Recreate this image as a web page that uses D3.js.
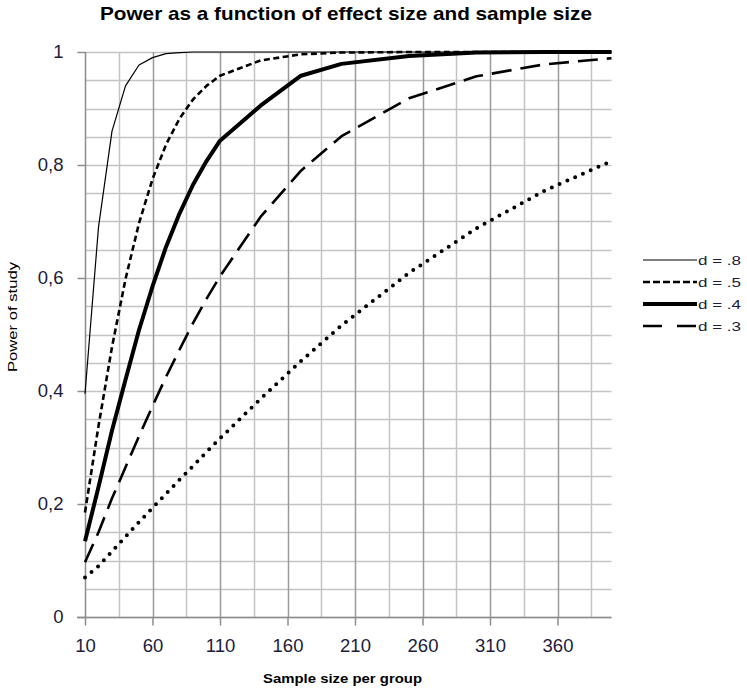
<!DOCTYPE html>
<html>
<head>
<meta charset="utf-8">
<script src="https://cdn.jsdelivr.net/npm/d3@7"></script>
<style>
  html, body { margin: 0; padding: 0; background: #fff; }
  svg { display: block; font-family: "Liberation Sans", Arial, sans-serif; }
</style>
</head>
<body>
<svg id="chart" width="747" height="691"></svg>
<script>
// ---- data ----
const sampleSizes = [10, 20, 30, 40, 50, 60, 70, 80, 90, 100, 110, 140, 170, 200, 250, 300, 350, 400];
const powerD8 = [0.395, 0.69, 0.86, 0.94, 0.977, 0.99, 0.997, 0.999, 1, 1, 1, 1, 1, 1, 1, 1, 1, 1];
const powerD5 = [0.185, 0.338, 0.478, 0.598, 0.697, 0.775, 0.836, 0.882, 0.916, 0.94, 0.958, 0.985, 0.996, 0.999, 1, 1, 1, 1];
const powerD4 = [0.134, 0.23, 0.33, 0.42, 0.508, 0.585, 0.655, 0.714, 0.765, 0.807, 0.843, 0.905, 0.958, 0.979, 0.993, 0.999, 1, 1];
const powerD3 = [0.097, 0.15, 0.21, 0.265, 0.32, 0.373, 0.425, 0.473, 0.52, 0.563, 0.603, 0.708, 0.79, 0.851, 0.918, 0.957, 0.978, 0.989];
const powerD2 = [0.07, 0.09, 0.116, 0.142, 0.168, 0.193, 0.218, 0.243, 0.267, 0.292, 0.316, 0.386, 0.453, 0.516, 0.609, 0.688, 0.754, 0.807];
const seriesNames = ["d = .8", "d = .5", "d = .4", "d = .3", "d = .2"];
const xTicks = [10, 60, 110, 160, 210, 260, 310, 360];
const yTicks = [0, 0.2, 0.4, 0.6, 0.8, 1];
const legendNames = ["d = .8", "d = .5", "d = .4", "d = .3"];

const series = [powerD8, powerD5, powerD4, powerD3, powerD2];
const styles = [
  { w: 1.2, dash: null, cap: "butt", legDash: null },
  { w: 2.6, dash: "6,3.5", cap: "butt", legDash: "7,3" },
  { w: 4, dash: null, cap: "butt", legDash: null },
  { w: 2.6, dash: "20,9", cap: "butt", legDash: "19,15" },
  { w: 4, dash: "0,8.5", cap: "round", legDash: "0,8.5" }
];

const svg = d3.select("#chart");
const pLeft = 85, pRight = 611.5, pTop = 52, pBottom = 617;
const x = d3.scaleLinear().domain([10, 400]).range([pLeft, pRight]);
const y = d3.scaleLinear().domain([0, 1]).range([pBottom, pTop]);

// grid
const g = svg.append("g");
const hLines = d3.range(0, 1.0001, 0.05);
g.selectAll(".h").data(hLines).enter().append("line")
  .attr("x1", pLeft).attr("x2", pRight)
  .attr("y1", d => Math.round(y(d)) + 0.5).attr("y2", d => Math.round(y(d)) + 0.5)
  .attr("stroke", "#c4c4c4").attr("stroke-width", 1.5);
const vMinor = d3.range(35, 400, 50);
g.selectAll(".vm").data(vMinor).enter().append("line")
  .attr("x1", d => Math.round(x(d)) + 0.5).attr("x2", d => Math.round(x(d)) + 0.5)
  .attr("y1", pTop).attr("y2", pBottom)
  .attr("stroke", "#c4c4c4").attr("stroke-width", 1.5);
const vMajor = xTicks.slice(1);
g.selectAll(".vM").data(vMajor).enter().append("line")
  .attr("x1", d => Math.round(x(d)) + 0.5).attr("x2", d => Math.round(x(d)) + 0.5)
  .attr("y1", pTop).attr("y2", pBottom)
  .attr("stroke", "#9a9a9a").attr("stroke-width", 1.5);

// axes
const xAxis = d3.axisBottom(x).tickValues(xTicks).tickSize(8).tickPadding(13).tickFormat(d3.format("d"));
const gx = svg.append("g").attr("transform", `translate(0,${pBottom + 0.5})`).call(xAxis);
const yAxis = d3.axisLeft(y).tickValues(yTicks).tickSize(8).tickPadding(14)
  .tickFormat(d => d === 0 ? "0" : d === 1 ? "1" : String(d).replace(".", ","));
const gy = svg.append("g").attr("transform", `translate(${pLeft + 0.5},0)`).call(yAxis);
[gx, gy].forEach(a => {
  a.select(".domain").attr("stroke", "#8c8c8c").attr("stroke-width", 1.5);
  a.selectAll(".tick line").attr("stroke", "#8c8c8c").attr("stroke-width", 1.5);
  a.selectAll(".tick text").attr("fill", "#1c1c3c").style("font-size", "18.5px")
   .style("font-family", "'Liberation Sans', Arial, sans-serif");
});
gy.select(".domain").attr("d", `M0,${pBottom}V${pTop}`);
gx.select(".domain").attr("d", `M${pLeft - 8},0H${pRight}`);

// lines
const line = d3.line().x((d, i) => x(sampleSizes[i])).y(d => y(d));
series.forEach((s, i) => {
  svg.append("path").datum(s)
    .attr("d", line)
    .attr("fill", "none")
    .attr("stroke", "#000")
    .attr("stroke-width", styles[i].w)
    .attr("stroke-dasharray", styles[i].dash)
    .attr("stroke-linecap", styles[i].cap)
    .attr("stroke-linejoin", "round");
});

// title and axis labels
svg.append("text").attr("x", 346).attr("y", 20).attr("text-anchor", "middle")
  .style("font-size", "19px").style("font-weight", "bold").attr("fill", "#000")
  .attr("textLength", 492).attr("lengthAdjust", "spacingAndGlyphs")
  .text("Power as a function of effect size and sample size");
svg.append("text").attr("x", 342.5).attr("y", 683).attr("text-anchor", "middle")
  .style("font-size", "13px").style("font-weight", "bold").attr("fill", "#000")
  .attr("textLength", 159).attr("lengthAdjust", "spacingAndGlyphs")
  .text("Sample size per group");
svg.append("text").attr("transform", "translate(17,317) rotate(-90)").attr("text-anchor", "middle")
  .style("font-size", "13px").attr("fill", "#000")
  .attr("textLength", 110).attr("lengthAdjust", "spacingAndGlyphs")
  .text("Power of study");

// legend
const ly0 = 260, lstep = 22;
legendNames.forEach((nm, i) => {
  const yy = ly0 + i * lstep;
  svg.append("line").attr("x1", 643).attr("x2", 697).attr("y1", yy).attr("y2", yy)
    .attr("stroke", "#000").attr("stroke-width", styles[i].w)
    .attr("stroke-dasharray", styles[i].legDash);
  svg.append("text").attr("x", 698).attr("y", yy + 4.5)
    .style("font-size", "12.5px").attr("fill", "#1c1c3c")
    .attr("textLength", 43).attr("lengthAdjust", "spacingAndGlyphs")
    .text(nm);
});
</script>
</body>
</html>
